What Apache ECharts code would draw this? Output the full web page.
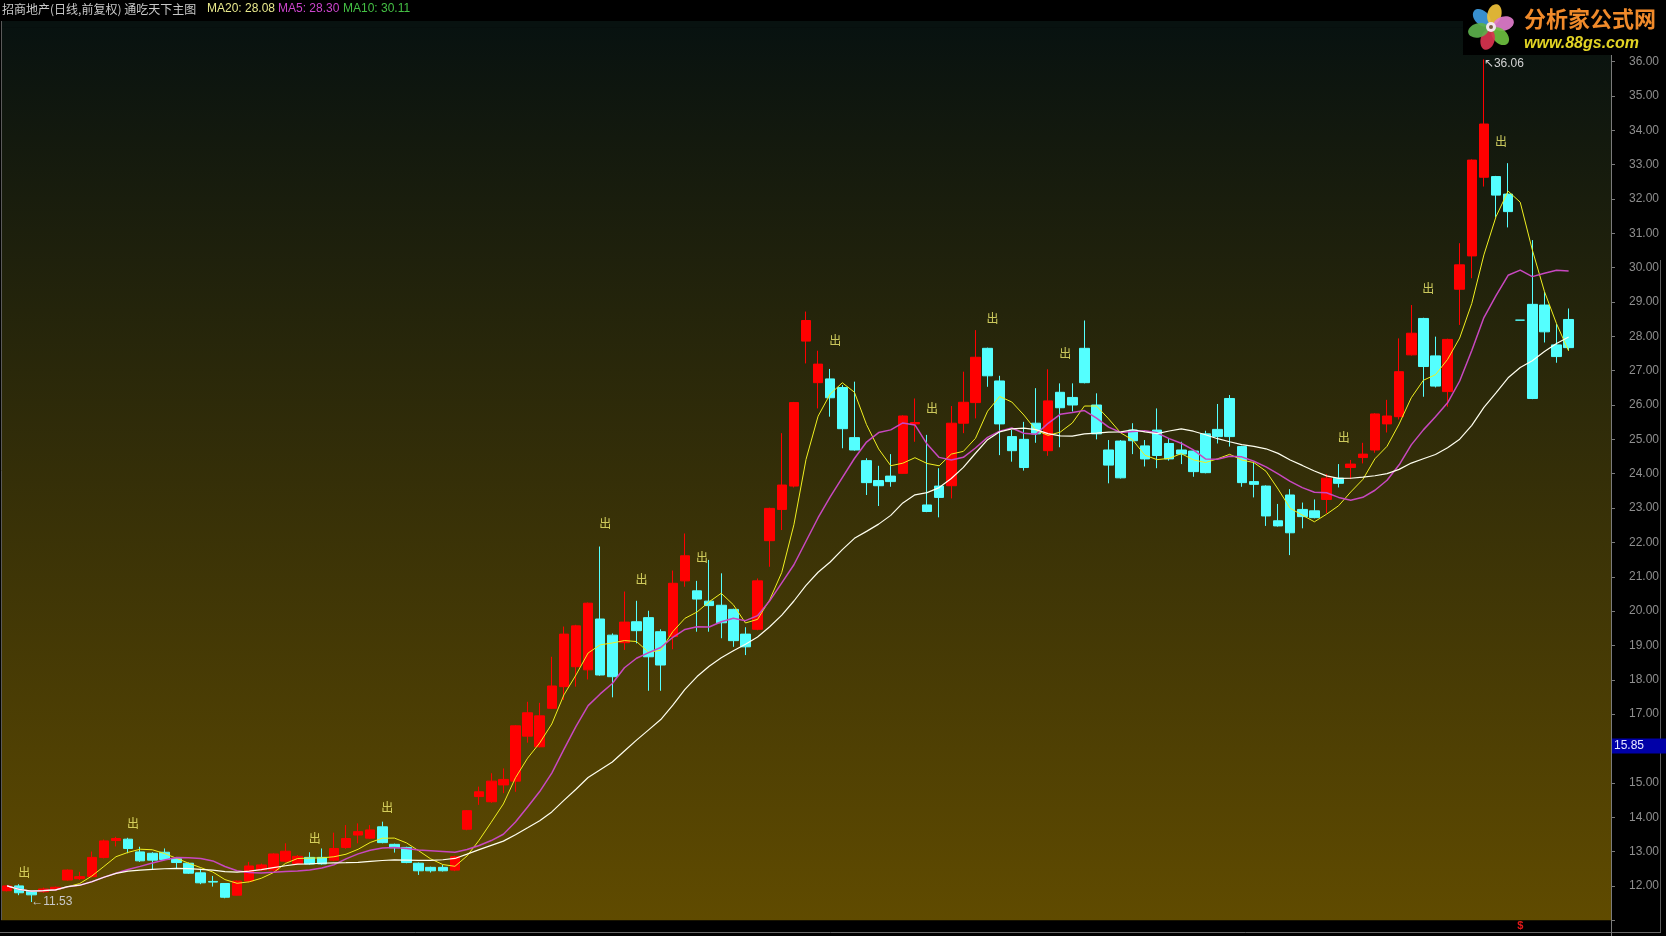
<!DOCTYPE html>
<html><head><meta charset="utf-8">
<script src="https://cdn.jsdelivr.net/npm/echarts@6/dist/echarts.min.js"></script>
<style>html,body{margin:0;padding:0;background:#000;overflow:hidden}#c{width:1666px;height:936px}</style>
</head><body><div id="c"></div>
<script>
// ---- data (index 0 = leftmost candle) ----
const opens = [11.86,12.00,11.86,11.83,11.90,12.17,12.21,12.27,12.83,13.32,13.36,12.99,12.95,12.98,12.79,12.66,12.38,12.13,12.07,11.73,
12.14,12.46,12.46,12.72,12.65,12.83,12.83,12.75,13.12,13.48,13.39,13.72,13.21,13.12,12.66,12.54,12.54,12.46,13.65,14.60,
14.45,14.94,15.05,16.36,16.05,17.17,17.80,18.38,18.29,19.77,19.30,19.08,19.69,19.81,19.40,19.26,20.88,20.59,20.29,20.17,
20.05,19.33,19.47,22.05,22.96,23.64,27.86,26.65,26.76,26.51,25.05,24.38,23.80,23.93,24.01,25.45,23.09,23.64,23.65,25.47,
26.07,27.65,26.70,25.08,25.00,25.47,24.67,26.37,26.22,27.65,26.00,24.69,24.95,25.27,24.81,25.27,24.88,24.69,24.66,25.16,
25.29,26.19,24.79,23.77,23.64,22.63,23.38,22.96,22.92,23.25,23.87,24.18,24.47,24.69,25.45,25.66,27.46,28.52,27.43,26.39,
29.37,30.34,32.63,32.65,32.14,28.47,28.93,28.91,27.75,28.49];
const closes = [12.00,11.80,11.74,11.91,11.96,12.46,12.27,12.83,13.31,13.38,13.09,12.73,12.75,12.77,12.68,12.37,12.09,12.11,11.67,12.14,
12.58,12.61,12.93,13.01,12.86,12.64,12.64,13.09,13.38,13.58,13.63,13.26,13.11,12.68,12.44,12.44,12.44,12.85,14.19,14.74,
15.05,15.10,16.66,17.04,16.95,17.82,19.33,19.57,20.23,18.14,18.09,19.68,19.43,18.67,18.43,20.81,21.61,20.35,20.16,19.66,
19.14,18.96,20.88,22.99,23.67,26.07,28.46,27.19,26.21,25.31,24.69,23.74,23.65,23.77,25.68,25.49,22.90,23.31,25.47,26.08,
27.39,26.85,25.45,24.67,24.18,25.16,26.12,25.92,26.00,26.65,25.16,24.25,23.88,24.96,24.43,24.53,24.43,24.57,24.06,24.03,
25.08,25.08,23.74,23.69,22.77,22.48,22.28,22.75,22.72,23.87,23.72,24.28,24.57,25.74,25.68,26.97,28.09,27.12,26.55,27.91,
30.08,33.13,34.18,32.11,31.63,28.47,26.19,28.13,27.41,27.67];
const lows = [11.84,11.73,11.53,11.80,11.88,12.15,12.17,12.25,12.80,13.15,12.95,12.70,12.49,12.75,12.51,12.35,12.05,11.98,11.64,11.72,
12.10,12.44,12.42,12.68,12.62,12.62,12.62,12.72,13.08,13.24,13.37,13.24,12.97,12.66,12.32,12.39,12.42,12.43,13.62,14.36,
14.42,14.70,14.74,16.17,16.03,17.15,17.41,17.80,18.01,18.12,17.49,18.87,19.06,17.68,17.68,18.89,20.71,19.40,19.40,19.21,
18.96,18.72,19.44,21.29,22.36,23.60,27.21,25.90,25.66,24.74,24.67,23.38,23.06,23.62,24.00,24.93,22.88,22.73,23.28,25.18,
25.61,26.53,24.54,24.35,24.09,24.90,24.52,24.77,25.81,26.63,25.00,23.72,23.86,24.57,24.21,24.16,24.38,24.28,23.91,24.01,
24.88,24.79,23.62,23.31,22.48,22.46,21.63,22.41,22.70,22.85,23.60,23.84,24.30,24.61,25.20,25.58,27.44,26.24,26.51,25.95,
28.33,29.69,32.36,31.46,31.17,28.47,26.17,27.82,27.23,27.60];
const highs = [12.02,12.05,11.88,11.95,11.98,12.48,12.41,13.00,13.35,13.43,13.40,13.14,12.98,13.09,12.81,12.68,12.50,12.29,12.08,12.16,
12.70,12.65,12.95,13.24,12.90,12.98,13.09,13.55,13.77,13.82,13.77,13.87,13.23,13.14,12.68,12.56,12.61,12.88,14.21,14.89,
15.28,15.42,16.68,17.36,17.33,18.67,19.55,19.60,20.25,21.88,19.35,20.57,20.30,20.01,19.47,21.18,22.26,20.88,21.49,21.10,
20.07,19.53,20.95,23.01,25.18,26.09,28.72,27.58,27.05,26.58,26.68,24.45,24.23,24.57,25.70,26.19,25.13,24.16,25.97,26.97,
28.18,27.67,26.85,25.27,25.51,26.49,27.04,26.63,26.63,28.46,26.34,24.98,24.98,25.47,24.98,25.90,25.03,24.93,24.68,25.25,
26.03,26.29,24.81,24.32,23.66,23.12,23.55,23.16,23.25,23.99,24.28,24.40,24.90,25.76,26.15,27.94,28.91,28.54,27.99,27.93,
30.71,33.15,36.06,32.67,33.04,28.47,30.80,29.30,28.36,28.81];
// "出" signal labels: [candle index, label level]
const exitSignals = [[1,12.38],[10,13.82],[25,13.39],[31,14.28],[49,22.54],[52,20.91],[57,21.55],[68,27.89],[76,25.91],[81,28.51],[87,27.49],[110,25.05],[117,29.38],[123,33.68]];
const yTickLabels = [12,13,14,15,17,18,19,20,21,22,23,24,25,26,27,28,29,30,31,32,33,34,35,36];
const extraSlots = 3;            // empty room right of the last candle
const peakIdx = 122, peakVal = 36.06;
const lowIdx = 2, lowVal = 11.53;
const cursorLevel = 16.07, cursorText = '15.85';
const markerIdx = 125;
const legendItems = [['MA20: 28.08','#e8e88c',207],['MA5: 28.30','#cc44cc',278],['MA10: 30.11','#44c044',343]];
const titleText = '招商地产(日线,前复权) 通吃天下主图';

const categories = [];
for (let i = 0; i < opens.length + extraSlots; i++) categories.push(String(i + 1));
const candles = opens.map((o, i) => [o, closes[i], lows[i], highs[i]]);
function ma(n) {
  return closes.map((c, i) => {
    const s = Math.max(0, i - n + 1); let sum = 0;
    for (let k = s; k <= i; k++) sum += closes[k];
    return +(sum / (i - s + 1)).toFixed(3);
  });
}

const chart = echarts.init(document.getElementById('c'), null, {renderer: 'canvas'});
const num = 'Liberation Sans, Arial, sans-serif';
chart.setOption({
  animation: false,
  backgroundColor: '#000',
  grid: {
    left: 1, right: 55, top: 27.15, bottom: 15.75, show: true, borderWidth: 0,
    backgroundColor: new echarts.graphic.LinearGradient(0, 0, 0, 1, [
      {offset: 0, color: 'rgb(8,18,16)'}, {offset: 1, color: 'rgb(96,75,0)'}])
  },
  xAxis: {type: 'category', data: categories, boundaryGap: true, show: false},
  yAxis: {
    type: 'value', position: 'right', min: 11, max: 37, interval: 1,
    splitLine: {show: false},
    axisLine: {show: true, lineStyle: {color: '#7a7a7a', width: 1}},
    axisTick: {show: true, length: 4, lineStyle: {color: '#7a7a7a'}},
    axisLabel: {color: '#8e8e8e', fontSize: 12, fontFamily: num, margin: 18,
      formatter: v => yTickLabels.indexOf(Math.round(v * 100) / 100) >= 0 ? v.toFixed(2) : ''}
  },
  series: [
    {
      type: 'candlestick', data: candles, barWidth: 10, z: 3,
      itemStyle: {color: '#ff0000', color0: '#54ffff', borderColor: '#ff0000', borderColor0: '#54ffff', borderWidth: 1},
      markPoint: {
        symbol: 'circle', symbolSize: 0, silent: true,
        data: [
          {coord: [peakIdx, peakVal], label: {show: true, position: 'right', distance: 0, offset: [0, 4], formatter: '↖' + peakVal.toFixed(2), color: '#d2d2d2', fontSize: 12, fontFamily: num}},
          {coord: [lowIdx, lowVal], label: {show: true, position: 'right', distance: 0, offset: [0, 0], formatter: '←' + lowVal.toFixed(2), color: '#c8c8c8', fontSize: 12, fontFamily: num}}
        ]
      }
    },
    {type: 'line', name: 'MA5', data: ma(5), showSymbol: false, symbol: 'none', z: 4, lineStyle: {color: '#f0f020', width: 1}},
    {type: 'line', name: 'MA10', data: ma(10), showSymbol: false, symbol: 'none', z: 4, lineStyle: {color: '#c848c0', width: 1.5}},
    {type: 'line', name: 'MA20', data: ma(20), showSymbol: false, symbol: 'none', z: 4, lineStyle: {color: '#fffff0', width: 1.2}},
    {
      type: 'scatter', data: exitSignals, symbolSize: 0, z: 5, silent: true,
      label: {show: true, position: 'inside', offset: [5, 0], formatter: '出', color: '#f4f070', fontSize: 12, fontFamily: 'Noto Sans CJK SC'}
    }
  ]
});

// decorative texts, frame, cursor price box and logo
const mx = chart.convertToPixel({xAxisIndex: 0}, markerIdx);
const cy = chart.convertToPixel({yAxisIndex: 0}, cursorLevel);
const g = [];
g.push({type: 'rect', shape: {x: 1, y: 21, width: 1610, height: 6.5}, style: {fill: 'rgb(8,18,16)'}});
g.push({type: 'text', left: 2, top: 3, style: {text: titleText, fill: '#c8c8c8', font: '12px "Noto Sans CJK SC"'}});
legendItems.forEach(([t, c, x]) => g.push({type: 'text', left: x, top: 3, style: {text: t, fill: c, font: '12px ' + num}}));
g.push({type: 'line', shape: {x1: 0, y1: 932.5, x2: 1661, y2: 932.5}, style: {stroke: '#6a6a6a', lineWidth: 1}});
g.push({type: 'line', shape: {x1: 1611.5, y1: 20, x2: 1611.5, y2: 936}, style: {stroke: '#7a7a7a', lineWidth: 1}});
g.push({type: 'line', shape: {x1: 1660.5, y1: 260, x2: 1660.5, y2: 932}, style: {stroke: '#5a5a5a', lineWidth: 1}});
g.push({type: 'line', shape: {x1: 1.5, y1: 21, x2: 1.5, y2: 920}, style: {stroke: '#5a5a5a', lineWidth: 1}});
g.push({type: 'text', x: mx, y: 926, style: {text: '$', fill: '#e01818', font: 'bold 11px ' + num, textAlign: 'center', textVerticalAlign: 'middle'}});
g.push({type: 'rect', shape: {x: 1612, y: cy - 7.5, width: 54, height: 15}, style: {fill: '#0000a8'}, z: 20});
g.push({type: 'text', x: 1614, y: cy, z: 21, style: {text: cursorText, fill: '#e8e8ff', font: '12px ' + num, textVerticalAlign: 'middle'}});
// logo
g.push({type: 'rect', shape: {x: 1463, y: 0, width: 200, height: 55}, style: {fill: '#000'}, z: 10});
const petals = [[-135, '#3d9be0'], [-75, '#f0c23a'], [-15, '#e07ccc'], [45, '#6cbf3f'], [105, '#d9334f'], [165, '#5cb04c']];
petals.forEach(([a, c]) => {
  const r = a * Math.PI / 180;
  g.push({type: 'ellipse', x: 1491 + 13 * Math.cos(r), y: 27 + 13 * Math.sin(r), rotation: -r,
    shape: {cx: 0, cy: 0, rx: 10.5, ry: 7}, style: {fill: c, opacity: 0.92}, z: 11});
});
g.push({type: 'circle', shape: {cx: 1491, cy: 27, r: 5}, style: {fill: '#f2e6ee'}, z: 12});
g.push({type: 'circle', shape: {cx: 1491, cy: 27, r: 2}, style: {fill: '#7a5a40'}, z: 12});
g.push({type: 'text', x: 1524, y: 19, z: 12, style: {text: '分析家公式网', font: 'bold 22px "Noto Sans CJK SC"', textVerticalAlign: 'middle', fill: '#f08a2a'}});
g.push({type: 'text', x: 1524, y: 44, z: 12, style: {text: 'www.88gs.com', font: 'italic bold 16px ' + num, textVerticalAlign: 'middle', fill: '#e2d424'}});
chart.setOption({graphic: g});
</script>
</body></html>
